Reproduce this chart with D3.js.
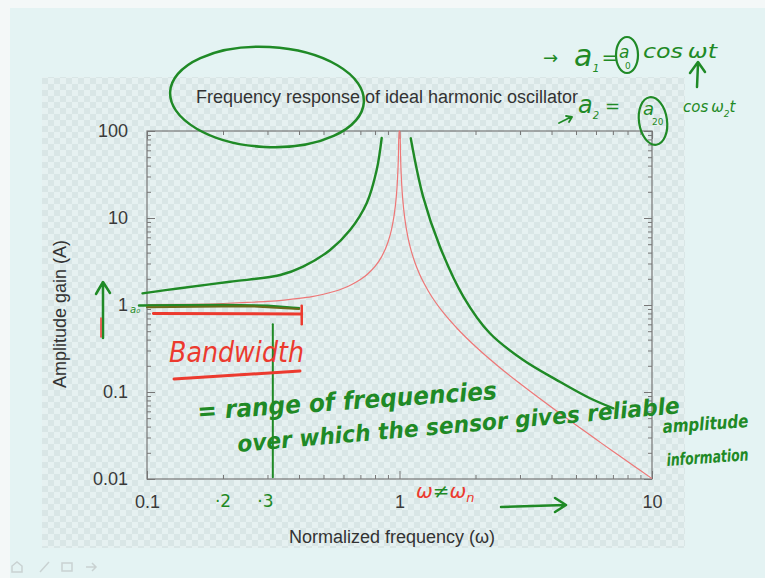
<!DOCTYPE html>
<html>
<head>
<meta charset="utf-8">
<script src="https://cdn.jsdelivr.net/npm/d3@7"></script>
<style>
  html, body { margin: 0; padding: 0; background: #e4f3f3; }
  svg { display: block; }
</style>
</head>
<body>
<svg id="chart" width="765" height="578"></svg>
<script>
// ---------------- data ----------------
const title = "Frequency response of ideal harmonic oscillator";
const xLabel = "Normalized frequency (\u03c9)";
const yLabel = "Amplitude gain (A)";
const xTickValues = [0.1, 1, 10];
const xTickLabels = ["0.1", "1", "10"];
const yTickValues = [0.01, 0.1, 1, 10, 100];
const yTickLabels = ["0.01", "0.1", "1", "10", "100"];

// red curve: ideal oscillator amplitude gain
const redOmega = [0.1, 0.15, 0.2, 0.25, 0.3, 0.35, 0.4, 0.45, 0.5, 0.55, 0.6, 0.65, 0.7, 0.75, 0.8, 0.85, 0.9, 0.93, 0.95, 0.97, 0.98, 0.99, 0.995,
                  1.005, 1.01, 1.02, 1.03, 1.05, 1.08, 1.1, 1.15, 1.2, 1.3, 1.4, 1.5, 1.7, 2, 2.5, 3, 4, 5, 6, 7, 8, 9, 10];
const redGain  = [1.01, 1.02, 1.04, 1.07, 1.10, 1.14, 1.19, 1.25, 1.33, 1.43, 1.56, 1.73, 1.96, 2.29, 2.78, 3.6, 5.26, 7.4, 10.3, 16.9, 25.3, 50.3, 100,
                  100, 49.8, 24.8, 16.4, 9.76, 6.0, 4.76, 3.1, 2.27, 1.45, 1.04, 0.80, 0.53, 0.333, 0.19, 0.125, 0.0667, 0.0417, 0.0286, 0.0208, 0.0159, 0.0125, 0.0101];

// hand-drawn green curves
const greenLeftOmega = [0.096, 0.135, 0.213, 0.337, 0.415, 0.531, 0.637, 0.742, 0.812, 0.85];
const greenLeftGain  = [1.36, 1.56, 1.85, 2.21, 2.76, 4.29, 7.28, 14.9, 35.6, 83];
const greenRightOmega = [1.108, 1.24, 1.446, 1.79, 2.28, 3.09, 4.20, 5.68, 7.03];
const greenRightGain  = [82.4, 17.6, 4.68, 1.25, 0.473, 0.233, 0.137, 0.0847, 0.065];

// ---------------- layout ----------------
const svg = d3.select("#chart");
const W = 765, H = 578;
const plot = {left: 147, right: 652, top: 131, bottom: 479};
const green = "#1f8a26", red = "#ec3a2e";

const x = d3.scaleLog().domain([0.1, 10]).range([plot.left, plot.right]);
const y = d3.scaleLog().domain([0.01, 100]).range([plot.bottom, plot.top]);

// slide backgrounds
svg.append("rect").attr("width", W).attr("height", H).attr("fill", "#e4f3f3");
svg.append("rect").attr("x", 0).attr("y", 0).attr("width", 10).attr("height", H).attr("fill", "#f4f8f8");
svg.append("rect").attr("x", 0).attr("y", 0).attr("width", W).attr("height", 8).attr("fill", "#f4f8f8");

const defs = svg.append("defs");
const pat = defs.append("pattern").attr("id", "checker").attr("patternUnits", "userSpaceOnUse")
  .attr("width", 12).attr("height", 12);
pat.append("rect").attr("width", 12).attr("height", 12).attr("fill", "#e6f1f1");
pat.append("rect").attr("width", 6).attr("height", 6).attr("fill", "#d9e6e6");
pat.append("rect").attr("x", 6).attr("y", 6).attr("width", 6).attr("height", 6).attr("fill", "#d9e6e6");
svg.append("rect").attr("x", 42).attr("y", 77).attr("width", 643).attr("height", 471).attr("fill", "url(#checker)");

defs.append("clipPath").attr("id", "clip").append("rect")
  .attr("x", plot.left).attr("y", plot.top - 1).attr("width", plot.right - plot.left).attr("height", plot.bottom - plot.top + 2);

// ---------------- axes ----------------
const minorVals = [];
[0.01, 0.1, 1, 10].forEach(d => { for (let k = 2; k <= 9; k++) minorVals.push(d * k); });
const minorX = minorVals.filter(v => v > 0.1 && v < 10);
const minorY = minorVals.filter(v => v > 0.01 && v < 100);
const axisColor = "#777";
const fontFam = "'Liberation Sans', Arial, sans-serif";

function styleAxis(g) {
  g.select(".domain").remove();
  g.selectAll(".tick line").attr("stroke", axisColor).attr("stroke-width", 1);
  g.selectAll(".tick text").attr("fill", "#3a3a3a").attr("font-size", 18).attr("font-family", fontFam);
}
// bottom
svg.append("g").attr("transform", `translate(0,${plot.bottom})`)
  .call(d3.axisBottom(x).tickValues(xTickValues).tickFormat((d, i) => xTickLabels[i]).tickSize(-8).tickPadding(16))
  .call(styleAxis);
svg.append("g").attr("transform", `translate(0,${plot.bottom})`)
  .call(d3.axisBottom(x).tickValues(minorX).tickFormat("").tickSize(-4)).call(styleAxis);
// top
svg.append("g").attr("transform", `translate(0,${plot.top})`)
  .call(d3.axisTop(x).tickValues(xTickValues).tickFormat("").tickSize(-8)).call(styleAxis);
svg.append("g").attr("transform", `translate(0,${plot.top})`)
  .call(d3.axisTop(x).tickValues(minorX).tickFormat("").tickSize(-4)).call(styleAxis);
// left
svg.append("g").attr("transform", `translate(${plot.left},0)`)
  .call(d3.axisLeft(y).tickValues(yTickValues).tickFormat((d, i) => yTickLabels[i]).tickSize(-8).tickPadding(19))
  .call(styleAxis);
svg.append("g").attr("transform", `translate(${plot.left},0)`)
  .call(d3.axisLeft(y).tickValues(minorY).tickFormat("").tickSize(-4)).call(styleAxis);
// right
svg.append("g").attr("transform", `translate(${plot.right},0)`)
  .call(d3.axisRight(y).tickValues(yTickValues).tickFormat("").tickSize(-8)).call(styleAxis);
svg.append("g").attr("transform", `translate(${plot.right},0)`)
  .call(d3.axisRight(y).tickValues(minorY).tickFormat("").tickSize(-4)).call(styleAxis);

// frame
svg.append("rect").attr("x", plot.left).attr("y", plot.top)
  .attr("width", plot.right - plot.left).attr("height", plot.bottom - plot.top)
  .attr("fill", "none").attr("stroke", axisColor).attr("stroke-width", 1.2);

// titles
svg.append("text").attr("x", 387).attr("y", 103).attr("text-anchor", "middle")
  .attr("font-family", fontFam).attr("font-size", 18).attr("fill", "#333").text(title);
svg.append("text").attr("x", 392).attr("y", 543).attr("text-anchor", "middle")
  .attr("font-family", fontFam).attr("font-size", 18).attr("fill", "#333").text(xLabel);
svg.append("text").attr("transform", `translate(66,314) rotate(-90)`)
  .attr("text-anchor", "middle").attr("font-family", fontFam).attr("font-size", 18).attr("fill", "#333").text(yLabel);

// ---------------- curves ----------------
const line = d3.line().x(d => x(d[0])).y(d => y(d[1])).curve(d3.curveMonotoneX);
const curves = svg.append("g").attr("clip-path", "url(#clip)");
curves.append("path").datum(redOmega.map((w, i) => [w, redGain[i]]))
  .attr("d", line).attr("fill", "none").attr("stroke", "#ee7777").attr("stroke-width", 1.2);

const gLine = d3.line().x(d => x(d[0])).y(d => y(d[1])).curve(d3.curveCatmullRom);
svg.append("path").datum(greenLeftOmega.map((w, i) => [w, greenLeftGain[i]]))
  .attr("d", gLine).attr("fill", "none").attr("stroke", green).attr("stroke-width", 2.4).attr("stroke-linecap", "round");
svg.append("path").datum(greenRightOmega.map((w, i) => [w, greenRightGain[i]]))
  .attr("d", gLine).attr("fill", "none").attr("stroke", green).attr("stroke-width", 2.4).attr("stroke-linecap", "round");

// ---------------- hand annotations ----------------
const hand = "'DejaVu Sans', sans-serif";
const ann = svg.append("g").attr("stroke-linecap", "round").attr("stroke-linejoin", "round");
function htext(px, py, size, color, str, opts = {}) {
  const t = ann.append("text").attr("x", px).attr("y", py).attr("font-family", hand)
    .attr("font-style", opts.italic === false ? "normal" : "italic")
    .attr("font-weight", opts.bold ? "bold" : "normal")
    .attr("font-size", size).attr("fill", color).text(str);
  if (opts.len) t.attr("textLength", opts.len).attr("lengthAdjust", "spacingAndGlyphs");
  if (opts.rot) t.attr("transform", `rotate(${opts.rot},${px},${py})`);
  if (opts.anchor) t.attr("text-anchor", opts.anchor);
  return t;
}

// ellipse around title
ann.append("ellipse").attr("cx", 267).attr("cy", 97).attr("rx", 97).attr("ry", 50)
  .attr("transform", "rotate(3,267,97)")
  .attr("fill", "none").attr("stroke", green).attr("stroke-width", 2.5);

// bandwidth lines near A = 1
ann.append("path").attr("d", `M${x(0.093)},${y(0.99)} L${x(0.2)},${y(1.0)} L${x(0.3)},${y(0.98)} L${x(0.4)},${y(0.92)}`)
  .attr("fill", "none").attr("stroke", green).attr("stroke-width", 2.5);
ann.append("path").attr("d", `M${x(0.1)},${y(0.94)} L${x(0.25)},${y(0.97)} L${x(0.4)},${y(0.9)}`)
  .attr("fill", "none").attr("stroke", "#6b6a1a").attr("stroke-width", 2);
ann.append("path").attr("d", `M${x(0.106)},${y(0.8)} L${x(0.41)},${y(0.79)}`)
  .attr("fill", "none").attr("stroke", red).attr("stroke-width", 3);
ann.append("path").attr("d", `M${x(0.41)},${y(0.98)} L${x(0.41)},${y(0.6)}`)
  .attr("fill", "none").attr("stroke", red).attr("stroke-width", 2.5);
// vertical green marker
ann.append("path").attr("d", `M${x(0.315)},${y(0.6)} L${x(0.315)},${y(0.0105)}`)
  .attr("fill", "none").attr("stroke", green).attr("stroke-width", 2);

// "Bandwidth" and underline
htext(169, 362, 28, red, "Bandwidth", {len: 135});
ann.append("path").attr("d", "M174,379 L300,371").attr("stroke", red).attr("stroke-width", 3).attr("fill", "none");

// description
htext(198, 420, 25, green, "= range of frequencies", {bold: true, len: 300, rot: -4});
htext(238, 452, 23, green, "over which the sensor gives reliable", {bold: true, len: 444, rot: -5});
htext(663, 433, 18, green, "amplitude", {bold: true, len: 86, rot: -4});
htext(667, 466, 17, green, "information", {bold: true, len: 82, rot: -4});

// x-axis annotations
htext(x(0.2), 507, 17, green, "\u00b72", {italic: false, anchor: "middle"});
htext(x(0.3) - 2, 507, 17, green, "\u00b73", {italic: false, anchor: "middle"});
const neq = ann.append("text").attr("x", 416).attr("y", 498).attr("font-family", hand)
  .attr("font-style", "italic").attr("font-size", 20);
neq.append("tspan").attr("fill", red).text("\u03c9");
neq.append("tspan").attr("fill", green).text("\u2260");
neq.append("tspan").attr("fill", red).text("\u03c9");
neq.append("tspan").attr("fill", red).attr("font-size", 13).attr("dy", 4).text("n");
ann.append("path").attr("d", "M501,507 L565,505 M555,498 L566,505 L555,512")
  .attr("fill", "none").attr("stroke", green).attr("stroke-width", 2.5);

// y-axis up arrow and a0 near "1"
ann.append("path").attr("d", "M103,338 L103,284 M96,294 L103,282 L110,293")
  .attr("fill", "none").attr("stroke", green).attr("stroke-width", 2.5);
ann.append("path").attr("d", "M101,337 L101,318").attr("stroke", red).attr("stroke-width", 1.5);
htext(130, 313, 10, green, "a\u2080");

// top-right equations
htext(543, 64, 18, green, "\u2192", {italic: false});
const eq1 = ann.append("text").attr("x", 574).attr("y", 66).attr("font-family", hand)
  .attr("font-style", "italic").attr("fill", green);
eq1.append("tspan").attr("font-size", 30).text("a");
eq1.append("tspan").attr("font-size", 11).attr("dy", 6).text("1");
eq1.append("tspan").attr("font-size", 20).attr("dy", -8).attr("dx", 2).text("=");
ann.append("ellipse").attr("cx", 627).attr("cy", 55).attr("rx", 11).attr("ry", 18)
  .attr("fill", "none").attr("stroke", green).attr("stroke-width", 2.2);
htext(619, 58, 17, green, "a");
htext(625, 69, 9, green, "0", {italic: false});
htext(643, 58, 20, green, "cos\u2009\u03c9t", {len: 74});
ann.append("path").attr("d", "M697,87 L698,64 M690,73 L698,62 L705,72")
  .attr("fill", "none").attr("stroke", green).attr("stroke-width", 2.5);

ann.append("path").attr("d", "M559,123 L571,117 M566,116 L572,117 L569,122")
  .attr("fill", "none").attr("stroke", green).attr("stroke-width", 1.8);
const eq2 = ann.append("text").attr("x", 578).attr("y", 113).attr("font-family", hand)
  .attr("font-style", "italic").attr("fill", green);
eq2.append("tspan").attr("font-size", 24).text("a");
eq2.append("tspan").attr("font-size", 10).attr("dy", 6).text("2");
eq2.append("tspan").attr("font-size", 18).attr("dy", -7).attr("dx", 6).text("=");
ann.append("ellipse").attr("cx", 653).attr("cy", 121).attr("rx", 14).attr("ry", 24)
  .attr("transform", "rotate(-8,653,121)")
  .attr("fill", "none").attr("stroke", green).attr("stroke-width", 2.2);
htext(643, 115, 18, green, "a");
htext(652, 125, 9, green, "20", {italic: false});
const eq2b = ann.append("text").attr("x", 683).attr("y", 112).attr("font-family", hand)
  .attr("font-style", "italic").attr("fill", green).attr("font-size", 15);
eq2b.append("tspan").text("cos\u2009\u03c9");
eq2b.append("tspan").attr("font-size", 9).attr("dy", 5).text("2");
eq2b.append("tspan").attr("dy", -5).text("t");

// faint toolbar icons at bottom-left
const tb = svg.append("g").attr("fill", "none").attr("stroke", "#c9d2d2").attr("stroke-width", 1.5);
tb.append("path").attr("d", "M12,572 L12,566 L17,562 L22,566 L22,572 Z");
tb.append("path").attr("d", "M40,572 L49,562");
tb.append("rect").attr("x", 62).attr("y", 563).attr("width", 10).attr("height", 8);
tb.append("path").attr("d", "M86,567 L96,567 M92,563 L96,567 L92,571");
</script>
</body>
</html>
